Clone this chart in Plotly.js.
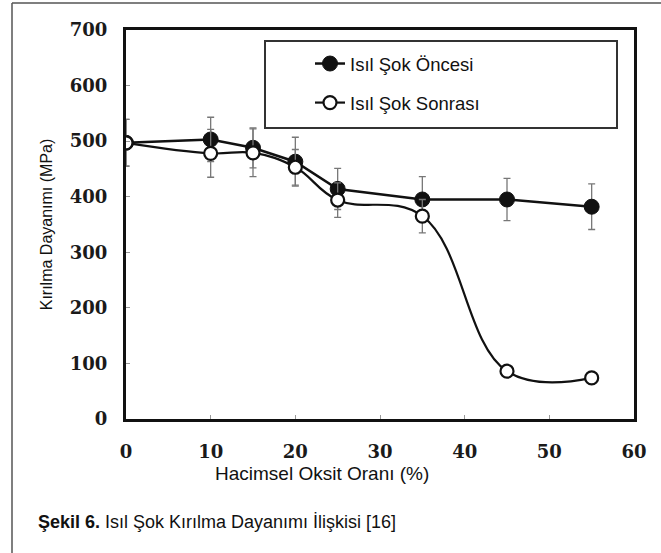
<!DOCTYPE html>
<html>
<head>
<meta charset="utf-8">
<script src="https://cdn.plot.ly/plotly-3.0.1.min.js"></script>
<style>
html,body{margin:0;padding:0;background:#fff;}
#chart{width:661px;height:553px;}
</style>
</head>
<body>
<div id="chart"></div>
<script>
// Data
const oksitOrani = [0, 10, 15, 20, 25, 35, 45, 55];
const oncesi     = [497, 503, 488, 463, 414, 395, 395, 382];
const oncesiErr  = [42, 40, 36, 44, 37, 41, 38, 41];
const sonrasi    = [497, 478, 479, 453, 394, 365, 86, 74];
const sonrasiErr = [42, 43, 43, 32, 31, 30, 0, 0];
const seriesNames = ["Isıl Şok Öncesi", "Isıl Şok Sonrası"];
const xTicks = [0, 10, 20, 30, 40, 50, 60];
const yTicks = [0, 100, 200, 300, 400, 500, 600, 700];

const W = 661, H = 553;
const L = 126, R = 634, T = 30, B = 419;
const px = v => (v - L) / (R - L);
const py = v => (B - v) / (B - T);

const tickFont = {family: "DejaVu Serif", size: 18, color: "#1a1a1a", weight: "bold"};
const legendFont = {family: "Liberation Sans, Arial, sans-serif", size: 18.5, color: "#111"};
const xTitleFont = {family: "Liberation Sans, Arial, sans-serif", size: 19, color: "#111"};
const yTitleFont = {family: "Liberation Sans, Arial, sans-serif", size: 16, color: "#111"};
const captionFont = {family: "Liberation Sans, Arial, sans-serif", size: 18, color: "#111"};

const errStyle = {type: "data", visible: true, thickness: 1.3, width: 3.5, color: "#777"};

const traces = [
  {
    x: oksitOrani, y: oncesi, name: seriesNames[0], type: "scatter", mode: "lines+markers",
    legendgroup: "a",
    line: {color: "#111", width: 2.5, shape: "linear"},
    marker: {symbol: "circle", size: 15, color: "#111", line: {color: "#111", width: 1}},
    error_y: Object.assign({array: oncesiErr}, errStyle)
  },
  {
    x: oksitOrani, y: sonrasi, name: seriesNames[1], type: "scatter", mode: "lines+markers",
    legendgroup: "b",
    line: {color: "#111", width: 2.2, shape: "spline", smoothing: 1.15},
    marker: {symbol: "circle", size: 13, color: "#fff", line: {color: "#111", width: 2.2}},
    error_y: Object.assign({array: sonrasiErr}, errStyle)
  }
];

const layout = {
  width: W, height: H,
  margin: {l: L, r: W - R, t: T, b: H - B},
  paper_bgcolor: "#fff", plot_bgcolor: "#fff",
  showlegend: true,
  legend: {
    x: px(310), y: py(45), xanchor: "left", yanchor: "top",
    bgcolor: "rgba(0,0,0,0)", borderwidth: 0,
    font: legendFont, tracegroupgap: 12
  },
  xaxis: {
    range: [0, 60], tickvals: xTicks, ticktext: xTicks.map(String),
    showgrid: false, zeroline: false,
    showline: true, mirror: true, linecolor: "#111", linewidth: 3,
    ticks: "inside", ticklen: 4, tickcolor: "#999", tickwidth: 1,
    tickfont: tickFont, ticklabelstandoff: 14
  },
  yaxis: {
    range: [0, 700], tickvals: yTicks, ticktext: yTicks.map(String),
    showgrid: false, zeroline: false,
    showline: true, mirror: true, linecolor: "#111", linewidth: 3,
    ticks: "inside", ticklen: 4, tickcolor: "#999", tickwidth: 1,
    tickfont: tickFont, ticklabelstandoff: 12,
    title: {text: "Kırılma Dayanımı (MPa)", font: yTitleFont, standoff: 14}
  },
  shapes: [
    {type: "rect", xref: "paper", yref: "paper", x0: px(265), x1: px(617), y0: py(128), y1: py(41),
     line: {color: "#333", width: 2}, fillcolor: "rgba(0,0,0,0)"},
    {type: "line", xref: "paper", yref: "paper", x0: px(12), x1: px(12), y0: py(3), y1: py(560),
     line: {color: "#555", width: 1.5}},
    {type: "line", xref: "paper", yref: "paper", x0: px(12), x1: px(670), y0: py(3), y1: py(3),
     line: {color: "#555", width: 1.5}}
  ],
  annotations: [
    {text: "Hacimsel Oksit Oranı (%)", xref: "paper", yref: "paper", x: px(322), y: py(473),
     xanchor: "center", yanchor: "middle", showarrow: false, font: xTitleFont},
    {text: "<b>Şekil 6.</b> Isıl Şok Kırılma Dayanımı İlişkisi [16]", xref: "paper", yref: "paper",
     x: px(36), y: py(522), xanchor: "left", yanchor: "middle", showarrow: false, font: captionFont}
  ]
};

Plotly.newPlot("chart", traces, layout, {staticPlot: true, displayModeBar: false});
</script>
</body>
</html>
